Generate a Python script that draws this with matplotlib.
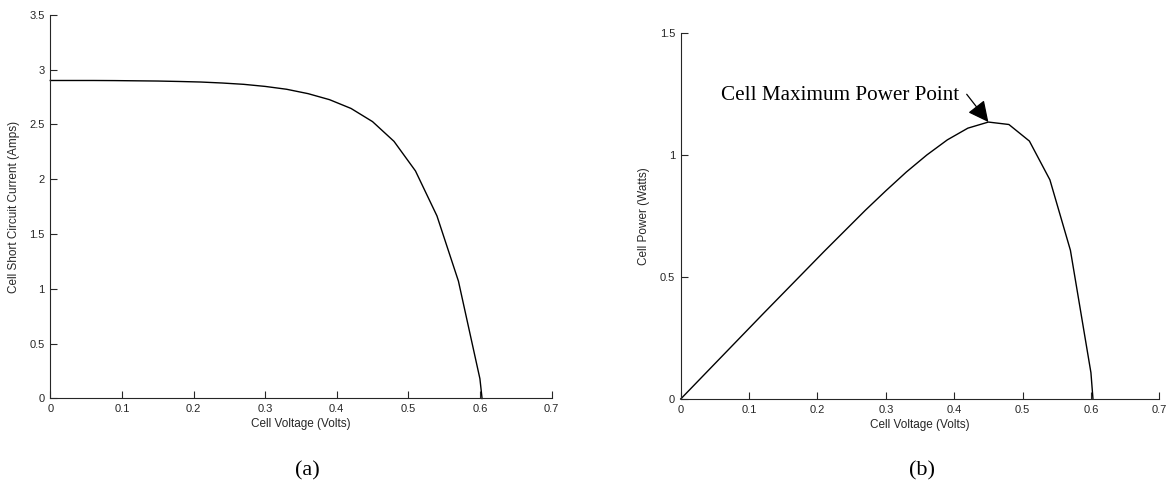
import matplotlib
matplotlib.use("Agg")
import matplotlib.pyplot as plt

# Solar cell I-V and P-V characteristics
voltage = [0.0, 0.03, 0.06, 0.09, 0.12, 0.15, 0.18, 0.21, 0.24, 0.27, 0.30,
           0.33, 0.36, 0.39, 0.42, 0.45, 0.48, 0.51, 0.54, 0.57, 0.60, 0.603]
current = [2.900, 2.900, 2.900, 2.899, 2.897, 2.895, 2.891, 2.886, 2.877, 2.865, 2.846,
           2.820, 2.780, 2.725, 2.645, 2.525, 2.345, 2.075, 1.665, 1.070, 0.180, 0.0]
power = [0.000, 0.087, 0.174, 0.261, 0.348, 0.434, 0.520, 0.606, 0.690, 0.774, 0.854,
         0.931, 1.001, 1.063, 1.111, 1.136, 1.126, 1.058, 0.899, 0.610, 0.108, 0.0]

x_ticks = [0, 0.1, 0.2, 0.3, 0.4, 0.5, 0.6, 0.7]
x_tick_labels = ["0", "0.1", "0.2", "0.3", "0.4", "0.5", "0.6", "0.7"]
i_ticks = [0, 0.5, 1, 1.5, 2, 2.5, 3, 3.5]
i_tick_labels = ["0", "0.5", "1", "1.5", "2", "2.5", "3", "3.5"]
p_ticks = [0, 0.5, 1, 1.5]
p_tick_labels = ["0", "0.5", "1", "1.5"]

mpp_voltage = 0.45
mpp_power = 1.136

axis_gray = "#262626"
sans = ["Liberation Sans", "DejaVu Sans"]
serif = ["Liberation Serif", "DejaVu Serif"]

fig = plt.figure(figsize=(11.67, 4.98), dpi=100)
ax_a = fig.add_axes([0.0431, 0.1998, 0.4295, 0.7707])
ax_b = fig.add_axes([0.5833, 0.1988, 0.4101, 0.7343])


def style_axes(ax, yticks, ylabels, ymax, ylabel):
    for side in ("top", "right"):
        ax.spines[side].set_visible(False)
    for side in ("left", "bottom"):
        ax.spines[side].set_color(axis_gray)
        ax.spines[side].set_linewidth(0.8)
    ax.set_xlim(0, 0.7)
    ax.set_ylim(0, ymax)
    ax.set_xticks(x_ticks)
    ax.set_xticklabels(x_tick_labels, family=sans, fontsize=8, color=axis_gray)
    ax.set_yticks(yticks)
    ax.set_yticklabels(ylabels, family=sans, fontsize=8, color=axis_gray)
    ax.tick_params(direction="in", length=5, width=0.8, color=axis_gray, pad=4)
    ax.set_xlabel("Cell Voltage (Volts)", family=sans, fontsize=8.5,
                  color=axis_gray, labelpad=3)
    ax.set_ylabel(ylabel, family=sans, fontsize=8.5, color=axis_gray, labelpad=7)


ax_a.plot(voltage, current, color="black", linewidth=1.0, clip_on=False)
style_axes(ax_a, i_ticks, i_tick_labels, 3.5, "Cell Short Circuit Current (Amps)")

ax_b.plot(voltage, power, color="black", linewidth=1.0, clip_on=False)
style_axes(ax_b, p_ticks, p_tick_labels, 1.5, "Cell Power (Watts)")

# label for the maximum power point, with a separate pointer arrow
ax_b.text(0.407, 1.226, "Cell Maximum Power Point", ha="right", va="baseline",
          family=serif, fontsize=15.2, color="black")
ax_b.annotate("", xy=(mpp_voltage, mpp_power), xytext=(0.4183, 1.250),
              arrowprops=dict(arrowstyle="-|>,head_length=0.85,head_width=0.42",
                              color="black", lw=0.9, shrinkA=0, shrinkB=0,
                              mutation_scale=15))

fig.text(0.263, 0.055, "(a)", family=serif, fontsize=16, ha="center", va="center")
fig.text(0.790, 0.055, "(b)", family=serif, fontsize=16, ha="center", va="center")

fig.savefig("out.png", dpi=100)
